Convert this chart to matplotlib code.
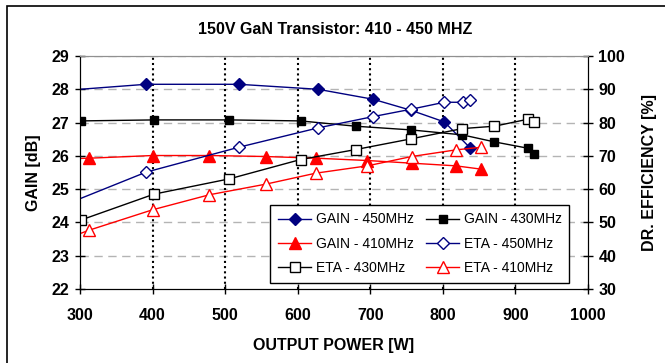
import matplotlib.pyplot as plt
from matplotlib.patches import Rectangle

plt.rcParams['font.family'] = ['Liberation Sans', 'DejaVu Sans']

# output power [W] and values
p_g450 = [270, 391, 519, 628, 704, 756, 802, 838]
gain_450 = [27.95, 28.15, 28.15, 28.0, 27.70, 27.37, 27.02, 26.23]
p_e450 = [270, 391, 519, 628, 704, 756, 802, 828, 838]
eta_450 = [54.5, 65.1, 72.6, 78.4, 81.8, 84.0, 86.1, 86.1, 86.7]

p_430 = [301, 402, 506, 604, 680, 756, 827, 871, 917, 926]
gain_430 = [27.05, 27.08, 27.08, 27.05, 26.89, 26.78, 26.63, 26.42, 26.23, 26.07]
eta_430 = [50.7, 58.5, 63.1, 68.9, 71.9, 75.1, 78.2, 78.9, 81.0, 80.2]

p_410 = [280, 313, 400, 478, 556, 625, 696, 757, 818, 853]
gain_410 = [25.91, 25.93, 26.01, 26.01, 25.98, 25.93, 25.86, 25.78, 25.70, 25.60]
eta_410 = [45.0, 47.7, 53.8, 58.3, 61.5, 64.8, 67.0, 69.8, 71.8, 72.6]

navy = '#000080'
red = '#ff0000'

fig = plt.figure(figsize=(6.65, 3.63), dpi=100)
fig.patches.append(Rectangle((7 / 665, -0.1), 1.2, 0.1 + 357 / 363, transform=fig.transFigure,
                             fill=False, edgecolor='black', linewidth=1.2))
ax = fig.add_axes([80 / 665, 1 - 289 / 363, 508 / 665, 233 / 363])
ax2 = ax.twinx()

l1, = ax.plot(p_g450, gain_450, color=navy, lw=1, marker='D', ms=6, mfc=navy, mec=navy,
              label='GAIN - 450MHz')
l2, = ax.plot(p_430, gain_430, color='black', lw=1, marker='s', ms=6, mfc='black', mec='black',
              label='GAIN - 430MHz')
l3, = ax.plot(p_410, gain_410, color=red, lw=1, marker='^', ms=8, mfc=red, mec=red,
              label='GAIN - 410MHz')
l4, = ax2.plot(p_e450, eta_450, color=navy, lw=1, marker='D', ms=6, mfc='white', mec=navy,
               label='ETA - 450MHz')
l5, = ax2.plot(p_430, eta_430, color='black', lw=1, marker='s', ms=7, mfc='white', mec='black',
               label='ETA - 430MHz')
l6, = ax2.plot(p_410, eta_410, color=red, lw=1, marker='^', ms=8, mfc='white', mec=red,
               label='ETA - 410MHz')

ax.set_xlim(300, 1000)
ax.set_ylim(22, 29)
ax2.set_ylim(30, 100)
ax.set_xticks(range(300, 1001, 100))
ax.set_yticks(range(22, 30))
ax2.set_yticks(range(30, 101, 10))

for y in range(23, 30):
    ax.axhline(y, color='#b4b4b4', lw=1, ls=(0, (6, 4)), zorder=0)
for x in range(400, 1000, 100):
    ax.axvline(x, color='black', lw=1.5, ls=(0, (1, 1.5)), zorder=0)

for a in (ax, ax2):
    a.tick_params(direction='inout', length=7, width=1, labelsize=11.5)
    for lab in a.get_xticklabels() + a.get_yticklabels():
        lab.set_fontweight('bold')
    a.spines['top'].set_color('#909090')
ax.tick_params(axis='x', pad=10)
ax.tick_params(axis='y', pad=4)
ax2.tick_params(axis='y', pad=4)

ax.set_xlabel('OUTPUT POWER [W]', fontsize=11.5, fontweight='bold', labelpad=11)
ax.set_ylabel('GAIN [dB]', fontsize=11.5, fontweight='bold', labelpad=8)
ax2.set_ylabel('DR. EFFICIENCY [%]', fontsize=11.5, fontweight='bold', labelpad=12)
fig.text(335 / 665, 1 - 30 / 363, '150V GaN Transistor: 410 - 450 MHZ', ha='center', va='center',
         fontsize=11.5, fontweight='bold')

ax2.set_zorder(ax.get_zorder() + 1)
ax.patch.set_visible(True)
ax2.patch.set_visible(False)

order = [l1, l3, l5, l2, l4, l6]
leg = ax2.legend(order, [h.get_label() for h in order],
                 ncol=2, loc='lower right', bbox_to_anchor=(0.963, 0.026),
                 fontsize=10, frameon=True, fancybox=False, edgecolor='black', framealpha=1,
                 handlelength=2.4, columnspacing=0.9, labelspacing=0.75, borderpad=0.55,
                 handletextpad=0.3, borderaxespad=0)
leg.get_frame().set_linewidth(1)

fig.savefig('out.png', dpi=100)
